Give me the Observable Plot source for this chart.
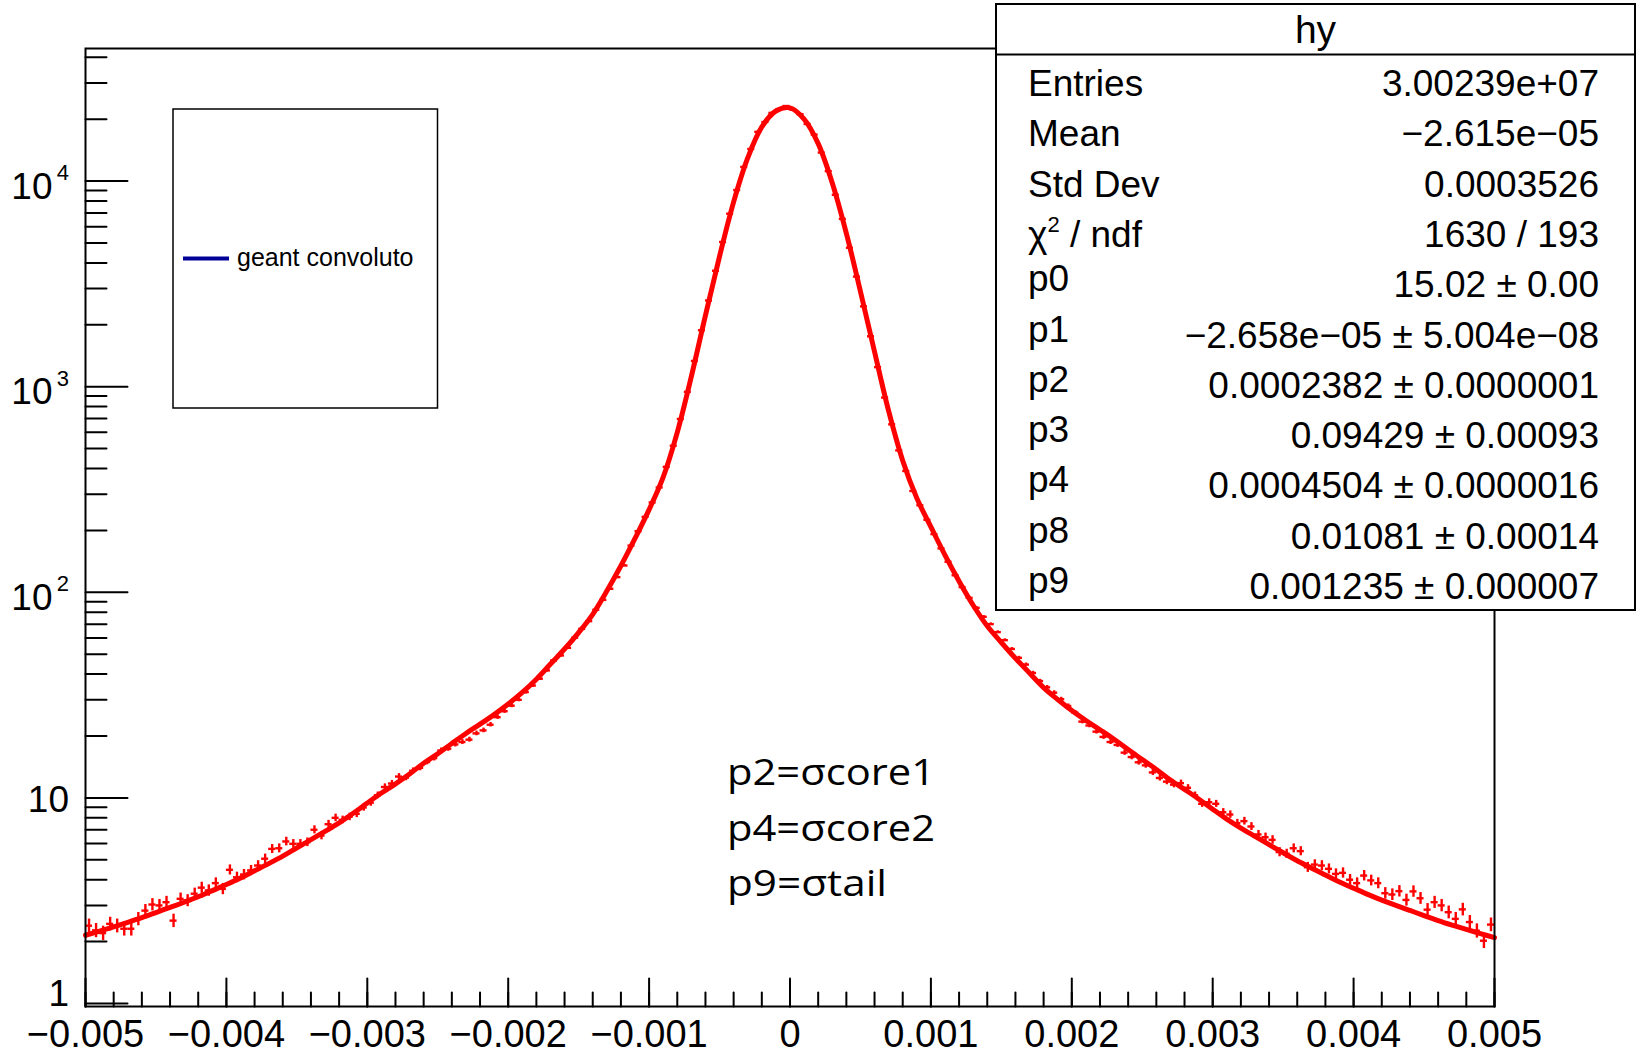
<!DOCTYPE html>
<html><head><meta charset="utf-8">
<script src="https://cdn.jsdelivr.net/npm/d3@7"></script>
<script src="https://cdn.jsdelivr.net/npm/@observablehq/plot@0.6"></script>
<style>
html,body{margin:0;padding:0;background:#fff;}
#wrap{position:relative;width:1639px;height:1055px;overflow:hidden;background:#fff;}
#wrap svg{position:absolute;left:0;top:0;}
</style></head><body><div id="wrap"></div>
<script>
// ---------- data ----------
const xMin = -0.005, xMax = 0.005;
const binWidth = 0.00005;           // 200 bins
const counts = [
 2.39,2.27,2.20,2.44,2.39,2.31,2.31,2.58,2.83,3.03,
 3.00,3.11,2.53,3.23,3.17,3.42,3.66,3.55,3.85,3.61,
 4.47,4.11,4.24,4.44,4.69,5.06,5.65,5.69,6.14,5.98,
 5.98,6.09,7.00,6.56,7.45,8.00,7.82,8.09,8.37,8.98,
 9.48,10.3,11.3,11.75,12.7,12.55,13.55,14.0,14.95,15.6,
 17.0,17.35,18.2,18.7,19.2,20.6,21.3,22.7,24.7,26.4,
 28.1,30.0,32.7,35.2,38.0,41.7,46.6,49.3,53.7,60.1,
 66.4,72.4,82.2,91.9,104,118.5,135,168.7,198.2,232.8,
 273.5,323.6,407.4,516.4,696.6,944,1334,1882,2627,3664,
 5058,6942,9048,11720,14330,17370,19380,21470,22400,23180,
 22220,21150,18960,16840,13770,11180,8581,6546,4742,3431,
 2458,1758,1245,885,656,490,389,311,265,225.4,
 191.9,163.5,140.8,121,106,94,84,76,70,64,
 58.5,53,48,44.5,40.5,37,34.5,32.5,30.2,28.0,
 26.0,23.5,22.5,21.0,19.8,18.7,18.1,16.6,15.8,14.9,
 14.4,13.3,12.5,12.0,11.6,11.8,11.2,10.3,9.36,9.53,
 9.36,8.52,8.30,7.53,7.71,7.26,6.64,6.44,6.25,5.45,
 5.35,5.69,5.51,4.60,4.74,4.69,4.52,4.27,4.32,4.00,
 3.85,4.19,3.97,3.85,3.44,3.39,3.52,3.19,3.51,3.25,
 2.86,3.11,3.00,2.78,2.58,2.87,2.49,2.26,2.02,2.42];
const entriesPerUnit = 70;          // Poisson error scale

const fitStep = 0.0001;             // fit curve sampled every 0.0001 from -0.005
const fitValues = [
 2.148,2.249,2.359,2.481,2.616,2.770,2.935,3.109,3.304,3.540,
 3.793,4.078,4.420,4.791,5.212,5.715,6.266,6.871,7.557,8.414,
 9.441,10.56,11.71,13.08,14.74,16.41,18.41,20.58,22.83,25.41,
 28.61,32.58,37.79,44.77,52.97,63.68,78.16,101.4,134.6,182.8,
 252.3,363.1,599.8,1122,2223,4305,7925,12960,18340,21930,
 22700,
 20030,15220,9795,5572,2904,1479,762,436.5,287.1,208,
 151.7,113.2,86.5,68.5,57.0,47.75,40.5,34.4,30.1,26.6,
 23.8,21.45,19.28,17.18,15.37,13.75,12.21,11.0,9.886,8.81,
 7.88,7.13,6.50,5.93,5.41,4.95,4.566,4.212,3.90,3.639,
 3.396,3.181,3.003,2.835,2.676,2.532,2.406,2.291,2.188,2.092];

const xMajorTicks = [-0.005,-0.004,-0.003,-0.002,-0.001,0,0.001,0.002,0.003,0.004,0.005];
const xTickLabels = ["\u22120.005","\u22120.004","\u22120.003","\u22120.002","\u22120.001","0","0.001","0.002","0.003","0.004","0.005"];
const yDecades = [1,10,100,1000,10000];
const yBaseLabels = ["1","10","10","10","10"];
const yExpLabels = ["","","2","3","4"];
const yDomain = [0.967, 44150];

const statsTitle = "hy";
const statsNames = ["Entries","Mean","Std Dev","\u03c7\u00b2 / ndf","p0","p1","p2","p3","p4","p8","p9"];
const statsValues = ["3.00239e+07","\u22122.615e\u221205","0.0003526","1630 / 193","15.02 \u00b1 0.00",
  "\u22122.658e\u221205 \u00b1 5.004e\u221208","0.0002382 \u00b1 0.0000001","0.09429 \u00b1 0.00093",
  "0.0004504 \u00b1 0.0000016","0.01081 \u00b1 0.00014","0.001235 \u00b1 0.000007"];
const legendLabel = "geant convoluto";
const noteLines = ["p2=\u03c3core1","p4=\u03c3core2","p9=\u03c3tail"];

// ---------- derived tables ----------
const hist = counts.map((v, i) => {
  const x = xMin + binWidth * (i + 0.5);
  const e = Math.sqrt(v / entriesPerUnit);
  return {x, v, lo: v - e, hi: v + e};
});
const fit = fitValues.map((v, j) => ({x: xMin + fitStep * j, v}));
const xMinorTicks = d3.range(0, 51).map(k => xMin + 0.0002 * k);
const yMinorTicks = [];
for (const d of [1,10,100,1000]) for (let m = 2; m <= 9; m++) yMinorTicks.push(d * m);
yMinorTicks.push(20000, 30000, 40000);
const yLab = yDecades.map((v, i) => ({v, base: yBaseLabels[i], exp: yExpLabels[i]}));
const xLab = xMajorTicks.map((v, i) => ({v, label: xTickLabels[i]}));

const tickShape = {draw(ctx, l) { ctx.moveTo(0, 0); ctx.lineTo(0, -l); }};
const RED = "#ff0000";
const FONT = "'Liberation Sans', Arial, Helvetica, sans-serif";

const chart = Plot.plot({
  width: 1639, height: 1055,
  marginLeft: 85, marginRight: 145, marginTop: 48, marginBottom: 49,
  style: {fontFamily: FONT, background: "white", color: "black", overflow: "visible"},
  x: {domain: [xMin, xMax], axis: null},
  y: {type: "log", domain: yDomain, axis: null},
  marks: [
    // histogram points with error bars
    Plot.ruleX(hist, {x: "x", y1: "lo", y2: "hi", stroke: RED, strokeWidth: 2.4}),
    Plot.ruleY(hist, {y: "v", x1: d => d.x - binWidth / 2, x2: d => d.x + binWidth / 2, stroke: RED, strokeWidth: 2.4}),
    // fit curve
    Plot.line(fit, {x: "x", y: "v", stroke: RED, strokeWidth: 5, curve: "catmull-rom"}),
    // frame
    Plot.frame({stroke: "black", strokeWidth: 2}),
    // y ticks (pointing into plot)
    Plot.vector(yMinorTicks, {y: d => d, frameAnchor: "left", rotate: 90, length: 21, anchor: "start", shape: tickShape, stroke: "black", strokeWidth: 2}),
    Plot.vector(yDecades, {y: d => d, frameAnchor: "left", rotate: 90, length: 42, anchor: "start", shape: tickShape, stroke: "black", strokeWidth: 2}),
    // x ticks (pointing up)
    Plot.vector(xMinorTicks, {x: d => d, frameAnchor: "bottom", rotate: 0, length: 14, anchor: "start", shape: tickShape, stroke: "black", strokeWidth: 2}),
    Plot.vector(xMajorTicks, {x: d => d, frameAnchor: "bottom", rotate: 0, length: 28, anchor: "start", shape: tickShape, stroke: "black", strokeWidth: 2}),
    // x labels
    Plot.text(xLab, {x: "v", text: "label", frameAnchor: "bottom", lineAnchor: "bottom", dy: 40.5, fontSize: 38, fill: "black"}),
    // y labels: base
    Plot.text(yLab.filter(d => d.exp !== ""), {y: "v", text: "base", frameAnchor: "left", textAnchor: "end", lineAnchor: "bottom", dx: -33, dy: 17.5, fontSize: 37, fill: "black"}),
    Plot.text(yLab.filter(d => d.exp !== ""), {y: "v", text: "exp", frameAnchor: "left", textAnchor: "end", lineAnchor: "bottom", dx: -16.5, dy: -1, fontSize: 22, fill: "black"}),
    Plot.text(yLab.filter(d => d.v === 10), {y: "v", text: "base", frameAnchor: "left", textAnchor: "end", lineAnchor: "bottom", dx: -16.5, dy: 14, fontSize: 37, fill: "black"}),
    Plot.text(yLab.filter(d => d.v === 1), {y: "v", text: "base", frameAnchor: "left", textAnchor: "end", lineAnchor: "bottom", dx: -16.5, dy: 2, fontSize: 37, fill: "black"})
  ]
});
const wrap = document.getElementById("wrap");
wrap.appendChild(chart);

// ---------- overlay: legend, stats box, annotation ----------
const ov = d3.select(wrap).append("svg").attr("width", 1639).attr("height", 1055)
  .style("font-family", FONT).style("pointer-events", "none");

// legend box
const lg = ov.append("g");
lg.append("rect").attr("x", 173).attr("y", 109).attr("width", 264.5).attr("height", 299)
  .attr("fill", "white").attr("stroke", "black").attr("stroke-width", 1.5);
lg.append("line").attr("x1", 183).attr("x2", 229).attr("y1", 258.5).attr("y2", 258.5)
  .attr("stroke", "#000099").attr("stroke-width", 4);
lg.append("text").attr("x", 237).attr("y", 265.5).attr("font-size", 25).text(legendLabel);

// stats box
const sb = ov.append("g");
sb.append("rect").attr("x", 996).attr("y", 4).attr("width", 639).attr("height", 606)
  .attr("fill", "white").attr("stroke", "black").attr("stroke-width", 2);
sb.append("line").attr("x1", 996).attr("x2", 1635).attr("y1", 54.5).attr("y2", 54.5)
  .attr("stroke", "black").attr("stroke-width", 2);
sb.append("text").attr("x", 1315.5).attr("y", 43).attr("text-anchor", "middle").attr("font-size", 39).text(statsTitle);
statsNames.forEach((name, k) => {
  const base = 96 + 50.3 * k;
  const isP = name.startsWith("p");
  const t = sb.append("text").attr("x", 1028).attr("y", isP ? base - 6 : base).attr("font-size", 37);
  if (name.startsWith("\u03c7")) {
    t.append("tspan").text("\u03c7");
    t.append("tspan").attr("font-size", 22).attr("dy", -15).text("2");
    t.append("tspan").attr("dy", 15).text(" / ndf");
  } else t.text(name);
  sb.append("text").attr("x", 1599).attr("y", base).attr("text-anchor", "end").attr("font-size", 37).text(statsValues[k]);
});

// annotation
const noteWidths = [208, 208, 160];
noteLines.forEach((s, k) => {
  ov.append("text").attr("x", 727).attr("y", 785 + 55.7 * k)
    .attr("font-family", "'Open Sans', 'Noto Sans', sans-serif").attr("font-size", 36)
    .attr("textLength", noteWidths[k]).attr("lengthAdjust", "spacingAndGlyphs").text(s);
});
</script></body></html>
